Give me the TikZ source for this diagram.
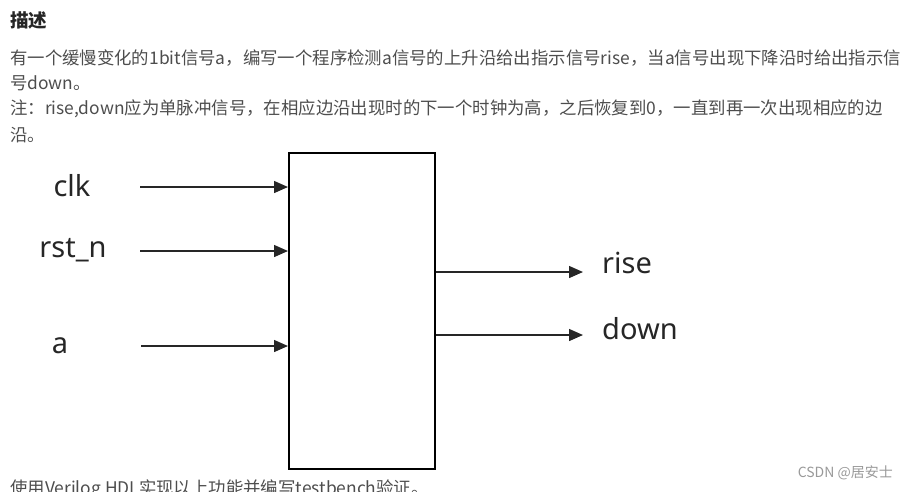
\documentclass[tikz,border=0pt]{standalone}
\usepackage{fontspec}
\setmainfont{Noto Sans}
\newfontfamily\cjk{Noto Sans CJK SC}
\newfontfamily\lab{Noto Sans}
\usetikzlibrary{arrows.meta}
\definecolor{bodygray}{HTML}{4D4D4D}
\definecolor{wmgray}{HTML}{999999}
\tikzset{
  x=1pt, y=-1pt,
  sig/.style={draw=black!85, line width=1.4pt, -{Triangle[length=14pt,width=12pt]}},
  siglabel/.style={font=\lab\fontsize{29}{32}\selectfont, text=black!85, inner sep=0pt},
  bodytext/.style={font=\cjk\fontsize{17.4}{20}\selectfont, text=bodygray, anchor=west, inner sep=0pt},
  blockbox/.style={draw=black, line width=2.4pt},
}
\begin{document}
\begin{tikzpicture}
\useasboundingbox (0,0) rectangle (908,491);
\clip (0,0) rectangle (908,491);
% header and description
\node[bodytext, font=\cjk\bfseries\fontsize{18.5}{20}\selectfont, text=black!85] (title) at (10,20) {描述};
\node[bodytext] (l1) at (10,58) {有一个缓慢变化的1bit信号a，编写一个程序检测a信号的上升沿给出指示信号rise，当a信号出现下降沿时给出指示信};
\node[bodytext] (l2) at (10,83) {号down。};
\node[bodytext] (l3) at (10,109) {注：rise,down应为单脉冲信号，在相应边沿出现时的下一个时钟为高，之后恢复到0，一直到再一次出现相应的边};
\node[bodytext] (l4) at (10,135) {沿。};
\node[bodytext] (l5) at (10,489) {使用Verilog HDL实现以上功能并编写testbench验证。};
\node[font=\cjk\fontsize{14}{16}\selectfont, text=wmgray, anchor=east, inner sep=0pt] (wm) at (893,473) {CSDN @居安士};
% block
\node[blockbox, minimum width=146pt, minimum height=316pt, inner sep=0pt, anchor=north west] (blk) at (288,152) {};
% input labels
\node[siglabel] (clk) at (72,186) {clk};
\node[siglabel] (rst) at (73,250) {rst\_n};
\node[siglabel] (a) at (60,346) {a};
\coordinate (clks) at (140,187);
\coordinate (rsts) at (140,251);
\coordinate (as) at (141,346);
\draw[sig] (clks) -- (clks -| blk.west);
\draw[sig] (rsts) -- (rsts -| blk.west);
\draw[sig] (as) -- (as -| blk.west);
% outputs
\node[siglabel, anchor=west] (rise) at (602,263) {rise};
\node[siglabel, anchor=west] (down) at (602,329) {down};
\coordinate (risee) at (583,272);
\coordinate (downe) at (583,335);
\draw[sig] (risee -| blk.east) -- (risee);
\draw[sig] (downe -| blk.east) -- (downe);
\end{tikzpicture}
\end{document}
